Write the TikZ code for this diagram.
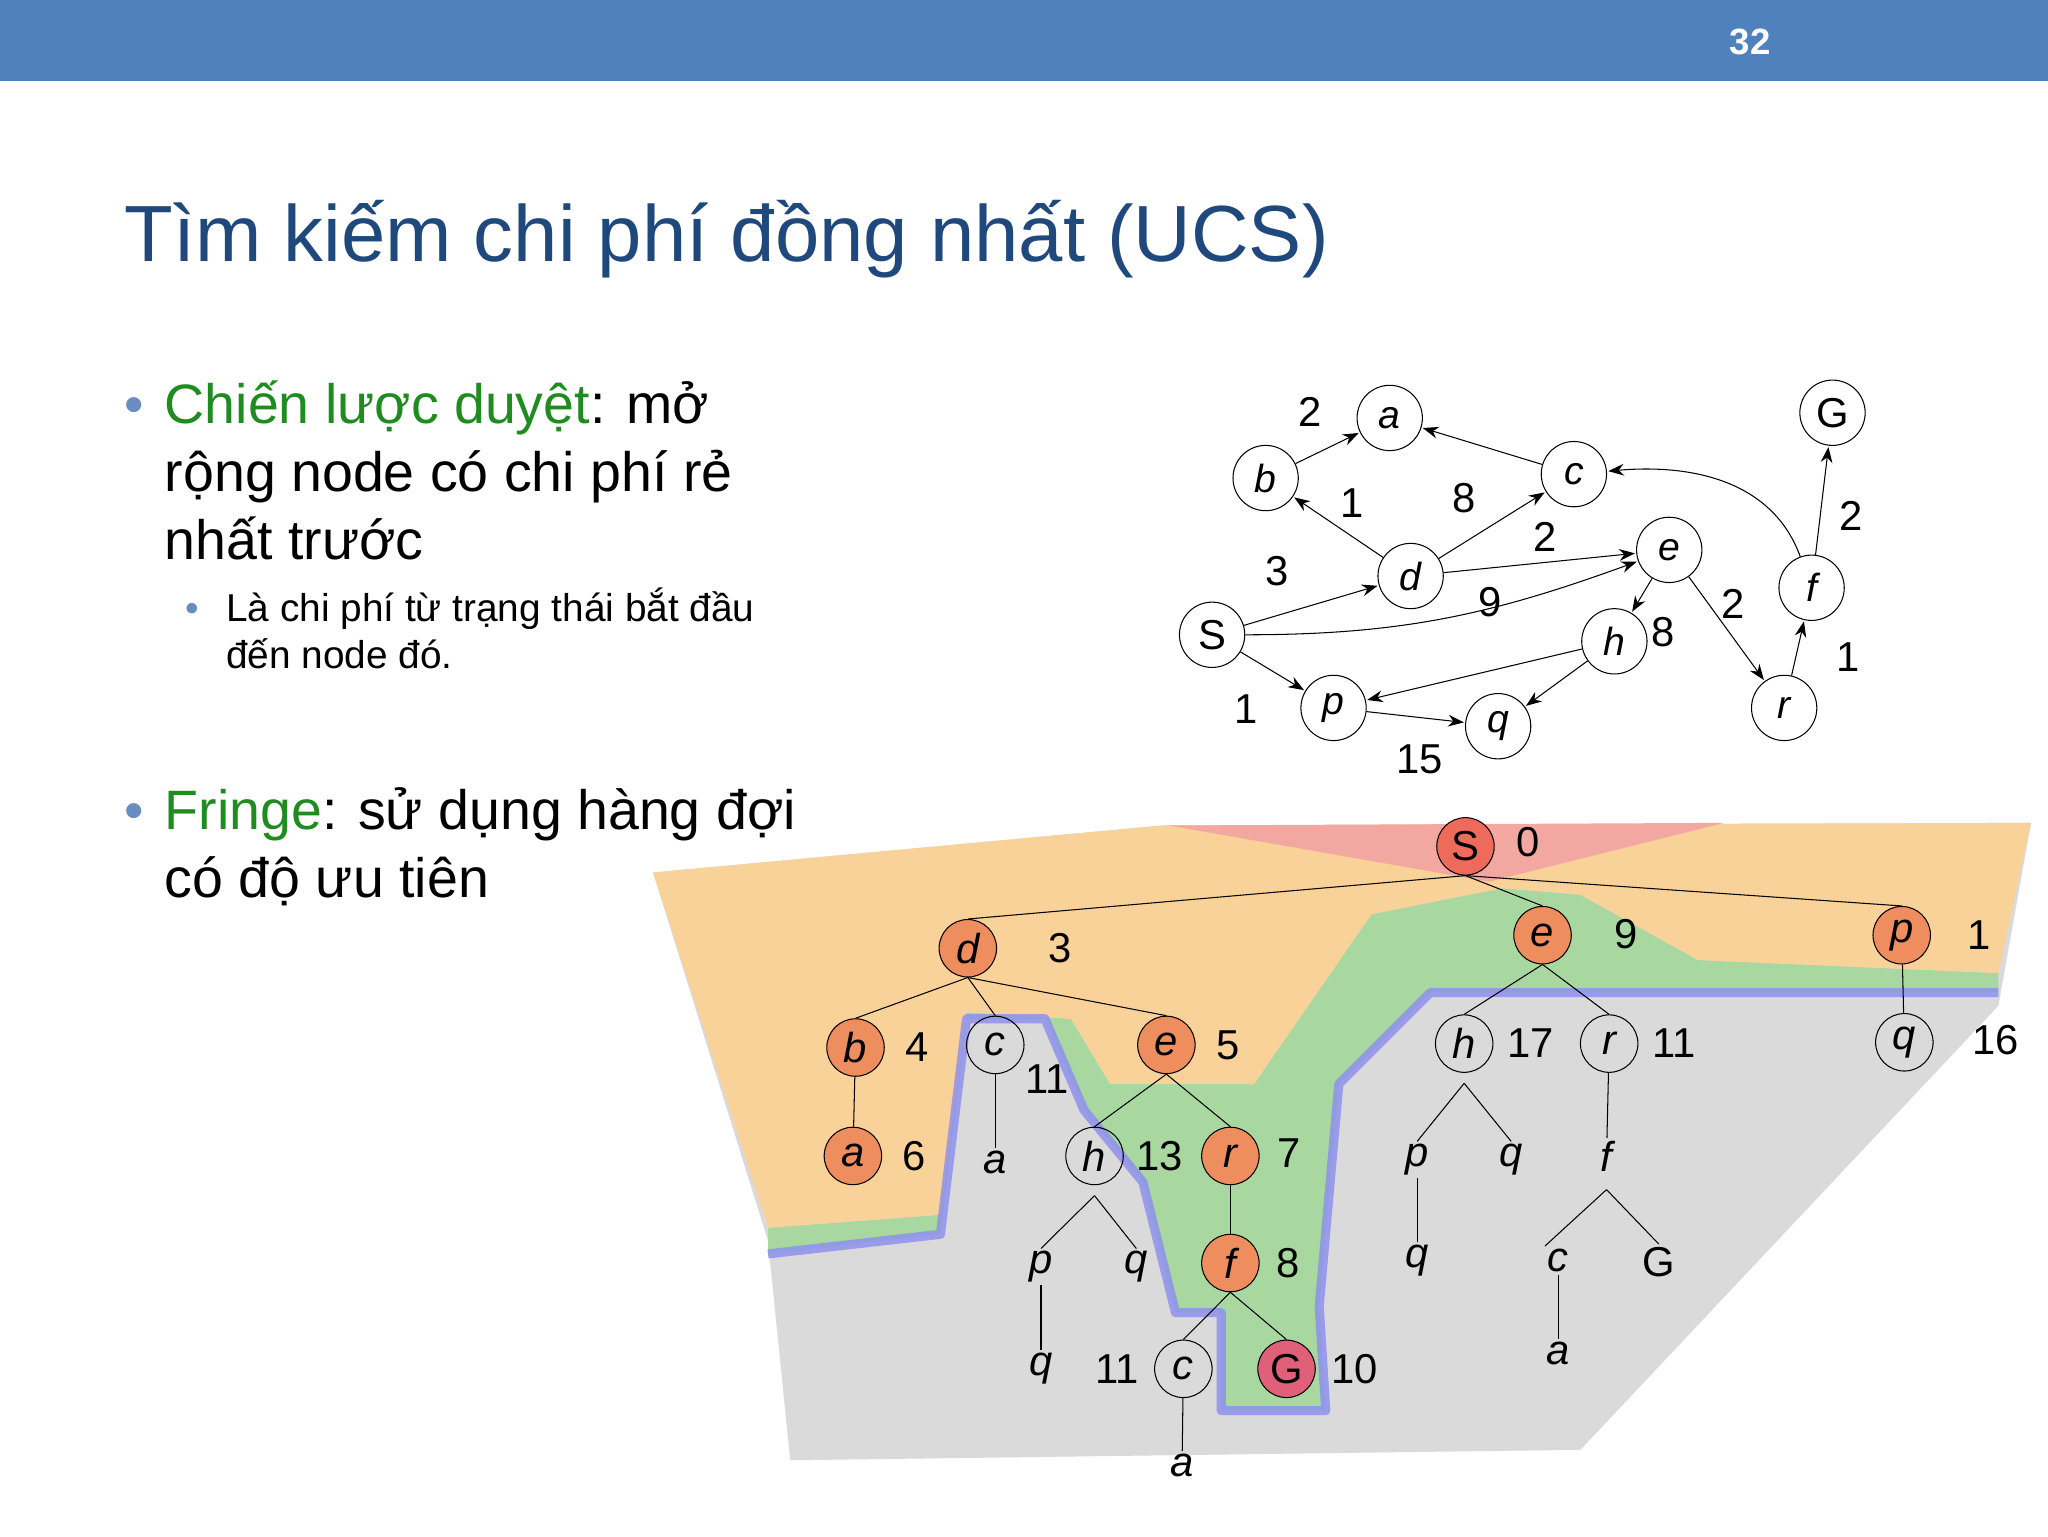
\documentclass[tikz,border=0pt]{standalone}
\usepackage{fontspec}
\setmainfont{Liberation Sans}
\usetikzlibrary{arrows.meta}
\definecolor{band}{HTML}{4F81BD}
\definecolor{ttl}{HTML}{1F497D}
\definecolor{grn}{HTML}{1E8C1E}
\definecolor{bul}{HTML}{6A8CC0}
\definecolor{og}{HTML}{F9D29A}
\definecolor{gr}{HTML}{A8D8A0}
\definecolor{rd}{HTML}{F2A8A0}
\definecolor{gy}{HTML}{DADADA}
\definecolor{bl}{HTML}{8C8CF0}
\definecolor{onode}{HTML}{EE8E5E}
\definecolor{rnode}{HTML}{EE6A5A}
\definecolor{gnode}{HTML}{E0607A}
\begin{document}
\begin{tikzpicture}[x=1pt,y=-1pt,
 gn/.style={circle,draw,thick,fill=white,minimum size=50pt,inner sep=0pt,font=\fontsize{30}{30}\selectfont\itshape},
 gl/.style={font=\fontsize{32}{32}\selectfont},
 ge/.style={thick,-{Stealth[length=12pt,width=9pt]},shorten >=1pt},
 tn/.style={circle,draw,thick,minimum size=44pt,inner sep=0pt,font=\fontsize{32}{32}\selectfont\itshape},
 tt/.style={inner sep=2pt,font=\fontsize{32}{32}\selectfont\itshape},
 tl/.style={font=\fontsize{32}{32}\selectfont},
 te/.style={thick}]
\useasboundingbox (0,0) rectangle (1568,1176);
\fill[white] (0,0) rectangle (1568,1176);
\fill[band] (0,0) rectangle (1568,62);
\node[text=white,font=\fontsize{28}{28}\selectfont\bfseries] (pg) at (1340,32) {32};
\node[anchor=base west,text=ttl,inner sep=0pt,font=\fontsize{61}{61}\selectfont] (title) at (95,200) {Tìm kiếm chi phí đồng nhất (UCS)};
% bullets
\begin{scope}[every node/.style={anchor=base west,inner sep=0pt,font=\fontsize{42.5}{42.5}\selectfont}]
\node[text=bul] (b1) at (95,324) {•};
\node (l1) at (126,324) {\textcolor{grn}{Chiến lược duyệt}: mở};
\node (l2) at (126,376) {rộng node có chi phí rẻ};
\node (l3) at (126,428) {nhất trước};
\node[text=bul] (b2) at (95,635) {•};
\node (l4) at (126,635) {\textcolor{grn}{Fringe}: sử dụng hàng đợi};
\node (l5) at (126,687) {có độ ưu tiên};
\end{scope}
\begin{scope}[every node/.style={anchor=base west,inner sep=0pt,font=\fontsize{29.7}{29.7}\selectfont}]
\node[text=bul] (b3) at (142,476) {•};
\node (s1) at (173,476) {Là chi phí từ trạng thái bắt đầu};
\node (s2) at (173,512) {đến node đó.};
\end{scope}
% graph
\node[gn,font=\fontsize{32}{32}\selectfont] (gS) at (928,486) {S};
\node[gn] (ga) at (1064,320) {a};
\node[gn] (gb) at (969,366) {b};
\node[gn] (gc) at (1205,363) {c};
\node[gn] (gd) at (1080,441) {d};
\node[gn] (ge) at (1278,421) {e};
\node[gn] (gf) at (1387,450) {f};
\node[gn,font=\fontsize{32}{32}\selectfont] (gG) at (1403,316) {G};
\node[gn] (gh) at (1236,491) {h};
\node[gn] (gp) at (1021,542) {p};
\node[gn] (gq) at (1147,556) {q};
\node[gn] (gr) at (1366,542) {r};
\draw[ge] (gS) -- (gd);
\draw[ge] (gS) -- (gp);
\draw[ge] (gS) to[out=0,in=200] (ge);
\draw[ge] (gb) -- (ga);
\draw[ge] (gd) -- (gb);
\draw[ge] (gd) -- (gc);
\draw[ge] (gd) -- (ge);
\draw[ge] (gc) -- (ga);
\draw[ge] (ge) -- (gh);
\draw[ge] (ge) -- (gr);
\draw[ge] (gr) -- (gf);
\draw[ge] (gf) to[out=110,in=5] (gc);
\draw[ge] (gf) -- (gG);
\draw[ge] (gh) -- (gp);
\draw[ge] (gh) -- (gq);
\draw[ge] (gp) -- (gq);
\node[gl] (w1) at (1003,315) {2};
\node[gl] (w2) at (1035,385) {1};
\node[gl] (w3) at (1121,381) {8};
\node[gl] (w4) at (1183,411) {2};
\node[gl] (w5) at (978,437) {3};
\node[gl] (w6) at (1141,461) {9};
\node[gl] (w7) at (1327,462) {2};
\node[gl] (w8) at (1273,484) {8};
\node[gl] (w9) at (1417,395) {2};
\node[gl] (w10) at (1415,503) {1};
\node[gl] (w11) at (954,543) {1};
\node[gl] (w12) at (1087,581) {15};
% background regions
\fill[gy] (500,668) -- (890,632) -- (1555,630) -- (1530,770) -- (1210,1110) -- (605,1118) -- (588,950) -- cycle;
\fill[gr] (588,940) -- (720,930) -- (740,775) -- (820,780) -- (850,830) -- (960,830) -- (1050,700) -- (1150,680) -- (1210,685) -- (1300,735) -- (1530,745) -- (1530,760)
 -- (1300,760) -- (1095,760) -- (1025,830) -- (1010,1000) -- (1015,1080) -- (935,1080) -- (935,1005) -- (900,1005) -- (875,905) -- (830,850) -- (800,780) -- (740,780) -- (720,945) -- (588,960) -- cycle;
\fill[og] (500,668) -- (890,632) -- (1555,630) -- (1530,745) -- (1300,735) -- (1210,685) -- (1150,680) -- (1050,700) -- (960,830) -- (850,830) -- (820,780) -- (740,775) -- (720,930) -- (588,940) -- cycle;
\fill[rd] (895,632) -- (1320,630) -- (1140,675) -- cycle;
\draw[bl,line width=7pt,opacity=0.8,line join=round] (588,960) -- (720,945) -- (740,780) -- (800,780) -- (830,850) -- (875,905) -- (900,1005) -- (935,1005) -- (935,1080) -- (1015,1080) -- (1010,1000) -- (1025,830) -- (1095,760) -- (1300,760) -- (1530,760);
% tree nodes
\node[tn,fill=rnode,font=\fontsize{32}{32}\selectfont] (S) at (1122,648) {S};
\node[tn,fill=onode] (d) at (741,726) {d};
\node[tn,fill=onode] (e1) at (1181,716) {e};
\node[tn,fill=onode] (p1) at (1456,716) {p};
\node[tn,fill=onode] (b) at (655,802) {b};
\node[tn] (c1) at (762,800) {c};
\node[tn,fill=onode] (e2) at (893,800) {e};
\node[tn] (h1) at (1121,799) {h};
\node[tn] (r1) at (1232,799) {r};
\node[tn] (q1) at (1458,798) {q};
\node[tn,fill=onode] (a1) at (653,885) {a};
\node[tt] (a2) at (762,890) {a};
\node[tn] (h2) at (838,885) {h};
\node[tn,fill=onode] (r2) at (942,885) {r};
\node[tt] (p2) at (1085,888) {p};
\node[tt] (q2) at (1157,888) {q};
\node[tt] (f1) at (1230,885) {f};
\node[tt] (p3) at (797,970) {p};
\node[tt] (q3) at (870,970) {q};
\node[tn,fill=onode] (f2) at (942,967) {f};
\node[tt] (q4) at (1085,965) {q};
\node[tt] (c2) at (1193,965) {c};
\node[tt,font=\fontsize{32}{32}\selectfont] (G1) at (1270,966) {G};
\node[tt] (q5) at (797,1048) {q};
\node[tn] (c3) at (906,1048) {c};
\node[tn,fill=gnode,font=\fontsize{32}{32}\selectfont] (G2) at (985,1048) {G};
\node[tt] (a3) at (1193,1036) {a};
\node[tt] (a4) at (905,1122) {a};
\node[tl] (n1) at (1170,645) {0};
\node[tl] (n2) at (812,726) {3};
\node[tl] (n3) at (1245,715) {9};
\node[tl] (n4) at (1515,716) {1};
\node[tl] (n5) at (702,802) {4};
\node[tl] (n6) at (802,826) {11};
\node[tl] (n7) at (940,800) {5};
\node[tl] (n8) at (1172,799) {17};
\node[tl] (n9) at (1282,799) {11};
\node[tl] (n10) at (1528,796) {16};
\node[tl] (n11) at (700,885) {6};
\node[tl] (n12) at (888,885) {13};
\node[tl] (n13) at (987,883) {7};
\node[tl] (n14) at (986,967) {8};
\node[tl] (n15) at (855,1048) {11};
\node[tl] (n16) at (1037,1048) {10};
% tree edges
\draw[te] (S.south) -- (d.north);
\draw[te] (S.south) -- (e1.north);
\draw[te] (S.south) -- (p1.north);
\draw[te] (d.south) -- (b.north);
\draw[te] (d.south) -- (c1.north);
\draw[te] (d.south) -- (e2.north);
\draw[te] (e1.south) -- (h1.north);
\draw[te] (e1.south) -- (r1.north);
\draw[te] (p1) -- (q1);
\draw[te] (b) -- (a1);
\draw[te] (c1) -- (a2);
\draw[te] (e2.south) -- (h2.north);
\draw[te] (e2.south) -- (r2.north);
\draw[te] (h1.south) ++(0,8) coordinate (h1s);
\draw[te] (h1s) -- (p2.north);
\draw[te] (h1s) -- (q2.north);
\draw[te] (r1) -- (f1);
\draw[te] (h2.south) ++(0,8) coordinate (h2s);
\draw[te] (h2s) -- (p3.north);
\draw[te] (h2s) -- (q3.north);
\draw[te] (r2) -- (f2);
\draw[te] (p2) -- (q4);
\draw[te] (f1.south) ++(0,12) coordinate (f1s);
\draw[te] (f1s) -- (c2.north west);
\draw[te] (f1s) -- (G1.north);
\draw[te] (p3) -- (q5);
\draw[te] (f2.south) -- (c3.north);
\draw[te] (f2.south) -- (G2.north);
\draw[te] (c2) -- (a3);
\draw[te] (c3) -- (a4);
\end{tikzpicture}
\end{document}
